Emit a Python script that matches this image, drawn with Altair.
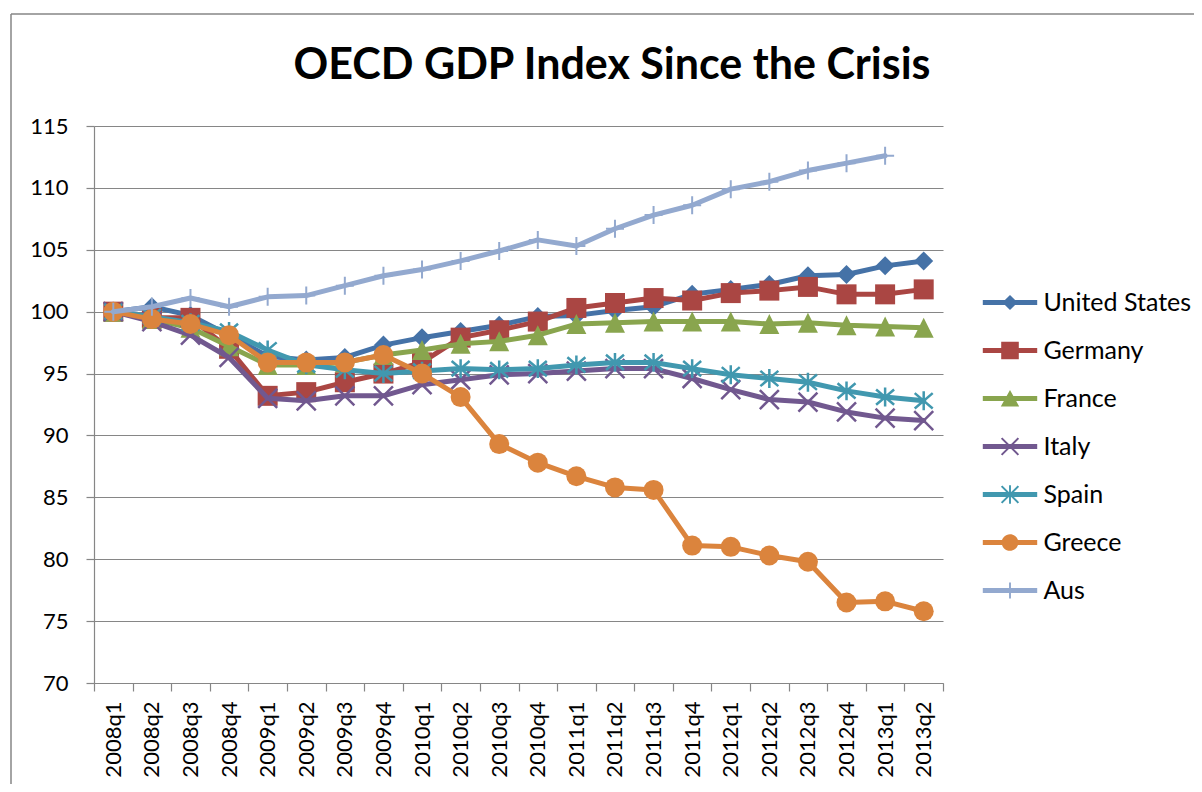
import altair as alt
import pandas as pd

quarters = ["2008q1", "2008q2", "2008q3", "2008q4", "2009q1", "2009q2", "2009q3", "2009q4",
            "2010q1", "2010q2", "2010q3", "2010q4", "2011q1", "2011q2", "2011q3", "2011q4",
            "2012q1", "2012q2", "2012q3", "2012q4", "2013q1", "2013q2"]

countries = ["United States", "Germany", "France", "Italy", "Spain", "Greece", "Aus"]

united_states = [100, 100.4, 99.7, 98.1, 96.4, 96.1, 96.3, 97.3, 97.9, 98.4, 98.9, 99.6,
                 99.7, 100.1, 100.4, 101.4, 101.8, 102.2, 102.9, 103.0, 103.7, 104.1]
germany = [100, 99.5, 99.5, 97.0, 93.2, 93.5, 94.3, 95.0, 95.9, 97.9, 98.5, 99.2,
           100.3, 100.7, 101.1, 100.9, 101.5, 101.7, 102.0, 101.4, 101.4, 101.8]
france = [100, 99.4, 98.7, 97.2, 95.7, 95.7, 95.9, 96.5, 96.9, 97.4, 97.6, 98.1,
          99.0, 99.1, 99.2, 99.2, 99.2, 99.0, 99.1, 98.9, 98.8, 98.7]
italy = [100, 99.2, 98.1, 96.3, 93.0, 92.8, 93.2, 93.2, 94.1, 94.5, 94.9, 95.0,
         95.2, 95.4, 95.4, 94.6, 93.7, 92.9, 92.7, 91.9, 91.4, 91.2]
spain = [100, 99.6, 99.1, 98.4, 96.9, 95.7, 95.3, 95.0, 95.2, 95.4, 95.3, 95.4,
         95.7, 95.9, 95.9, 95.4, 94.9, 94.6, 94.3, 93.6, 93.1, 92.8]
greece = [100, 99.4, 99.0, 98.1, 95.9, 95.9, 95.9, 96.5, 95.0, 93.1, 89.3, 87.8,
          86.7, 85.8, 85.6, 81.1, 81.0, 80.3, 79.8, 76.5, 76.6, 75.8]
aus = [100, 100.4, 101.1, 100.4, 101.2, 101.3, 102.1, 102.9, 103.4, 104.1, 104.9, 105.8,
       105.3, 106.7, 107.8, 108.6, 109.9, 110.5, 111.4, 112.0, 112.6, None]

colors = ["#4572A7", "#AA4643", "#89A54E", "#71588F", "#4198AF", "#DB843D", "#93A9CF"]

series_values = [united_states, germany, france, italy, spain, greece, aus]
rows = []
for name, vals in zip(countries, series_values):
    for q, v in zip(quarters, vals):
        rows.append({"quarter": q, "country": name, "value": v})
df = pd.DataFrame(rows)

# ---- marker styles (plot) ----
plot_markers = [
    ("diamond", 361, True, 0),
    ("square", 400, True, 0),
    ("M0,-1L1,1L-1,1Z", 400, True, 0),
    ("M-1,-1L1,1M-1,1L1,-1", 361, False, 2.5),
    ("M-1,-0.85L1,0.85M-1,0.85L1,-0.85M0,-1.05L0,1.05", 324, False, 2.5),
    ("circle", 400, True, 0),
    ("M0,-1L0,1M-1,0L1,0", 324, False, 2),
]


# ---- legend symbols: line segment + marker, all as filled polygons ----
def rect(x0, y0, x1, y1):
    return f"M{x0},{y0}L{x1},{y0}L{x1},{y1}L{x0},{y1}Z"


def xarms(e, a):
    p1 = f"M{-e+a},{-e-a}L{e+a},{e-a}L{e-a},{e+a}L{-e-a},{-e+a}Z"
    p2 = f"M{-e-a},{e-a}L{e-a},{-e-a}L{e+a},{-e+a}L{-e+a},{e+a}Z"
    return p1 + p2


arm = rect(-3.4, -0.3, 3.4, 0.3)
legend_paths = [
    arm + "M0,-0.95L0.95,0L0,0.95L-0.95,0Z",
    arm + rect(-1.1, -1.1, 1.1, 1.1),
    arm + "M0,-1.05L1.15,1.0L-1.15,1.0Z",
    arm + xarms(1.05, 0.09),
    arm + xarms(1.05, 0.09) + rect(-0.12, -1.15, 0.12, 1.15),
    arm + "M1.04,0A1.04,1.04 0 1,1 -1.04,0A1.04,1.04 0 1,1 1.04,0Z",
    arm + rect(-0.12, -1.0, 0.12, 1.0),
]

grey = "#868686"

x_enc = alt.X(
    "quarter:O",
    bandPosition=0.5,
    scale=alt.Scale(type="band", domain=quarters, paddingInner=0, paddingOuter=0),
    axis=alt.Axis(title=None, labelAngle=270, tickBand="extent", grid=False,
                  labelPadding=10, labelOverlap=False),
)
y_enc = alt.Y(
    "value:Q",
    scale=alt.Scale(domain=[70, 115], nice=False, zero=False),
    axis=alt.Axis(title=None, values=list(range(70, 116, 5)), grid=True, labelPadding=18),
)

layers = []
for name, col, (shape, size, filled, sw) in zip(countries, colors, plot_markers):
    base = alt.Chart(df).transform_filter(alt.datum.country == name)
    layers.append(
        base.mark_line(color=col, strokeWidth=5, strokeJoin="round", strokeCap="round")
        .encode(x=x_enc, y=y_enc)
    )
    if filled:
        pt = base.mark_point(shape=shape, size=size, filled=True, fill=col, opacity=1,
                             strokeWidth=0)
    else:
        pt = base.mark_point(shape=shape, size=size, filled=False, stroke=col, opacity=1,
                             strokeWidth=sw)
    layers.append(pt.encode(x=x_enc, y=y_enc))

legend = alt.Legend(
    orient="none", legendX=903.5, legendY=164, title=None,
    labelFont="Lato", labelFontSize=25, labelColor="black", labelLimit=0,
    symbolSize=256, symbolStrokeWidth=0, symbolOpacity=1,
    labelOffset=21, rowPadding=22, padding=0,
)
legend_layer = (
    alt.Chart(df)
    .transform_filter("false")
    .mark_point(filled=True, opacity=1, strokeWidth=0)
    .encode(
        color=alt.Color("country:N", scale=alt.Scale(domain=countries, range=colors),
                        legend=legend),
        shape=alt.Shape("country:N", scale=alt.Scale(domain=countries, range=legend_paths),
                        legend=legend),
    )
)

frame_df = pd.DataFrame({"k": [0]})
top_rule = alt.Chart(frame_df).mark_rule(color=grey, strokeWidth=1.5).encode(
    x=alt.value(-83), x2=alt.value(1100), y=alt.value(-112))
left_rule = alt.Chart(frame_df).mark_rule(color=grey, strokeWidth=1.5).encode(
    x=alt.value(-83), y=alt.value(-112), y2=alt.value(658))

chart = (
    alt.layer(top_rule, left_rule, *layers, legend_layer)
    .properties(
        width=849,
        height=557,
        padding={"left": 86, "top": 118, "right": 251, "bottom": 101},
        autosize=alt.AutoSizeParams(type="none"),
        background="white",
        title=alt.TitleParams(
            text="OECD GDP Index Since the Crisis",
            font="Lato", fontSize=43, fontWeight="bold", color="black",
            anchor="middle", frame="group", dx=93.5, dy=109, offset=0, baseline="alphabetic",
        ),
    )
    .configure_view(stroke=None)
    .configure_axis(
        labelFont="Lato", labelFontSize=22, labelColor="black",
        domainColor=grey, tickColor=grey, gridColor=grey,
        tickSize=8, domainWidth=1.2, tickWidth=1.2, gridWidth=1.2,
    )
)

chart.save("out.html", embed_options={"renderer": "svg", "actions": False})
